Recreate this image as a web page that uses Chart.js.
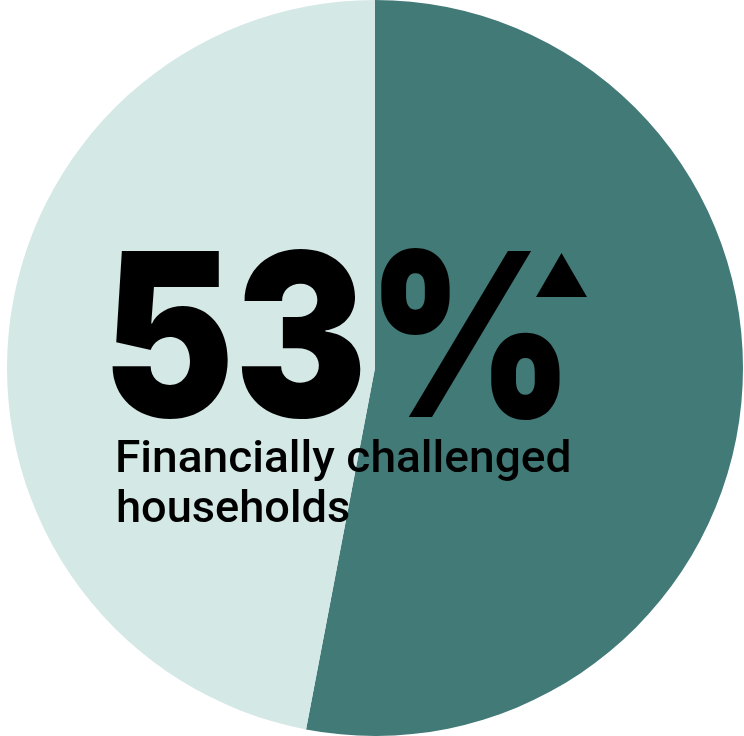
<!DOCTYPE html>
<html><head><meta charset="utf-8">
<script src="https://cdn.jsdelivr.net/npm/chart.js@4"></script>
<style>html,body{margin:0;padding:0;background:#fff}#wrap{width:744px;height:736px}</style>
</head><body><div id="wrap"><canvas id="c" width="744" height="736"></canvas></div>
<script>
const categories = ["Financially challenged households", "Other households"];
const values = [53, 47];
const bigLabel = "53%";
const subLabel = ["Financially challenged", "households"];
const colors = ["#427a78", "#d4e8e6"];

const BIG_FONT = '900 228px Inter';
const SUB_FONT = '500 45px Roboto';

// fit text so that its ink spans [left, right]
function fitInk(ctx, text, font, left, right, y) {
  ctx.font = font;
  const m = ctx.measureText(text);
  const inkW = m.actualBoundingBoxLeft + m.actualBoundingBoxRight;
  const s = (right - left) / inkW;
  ctx.save();
  ctx.translate(left + m.actualBoundingBoxLeft * s, y);
  ctx.scale(s, 1);
  ctx.fillText(text, 0, 0);
  ctx.restore();
}

const overlay = {
  id: 'overlay',
  afterDraw(chart) {
    const ctx = chart.ctx;
    ctx.save();
    ctx.fillStyle = '#000';
    ctx.textBaseline = 'alphabetic';
    ctx.textAlign = 'left';
    fitInk(ctx, bigLabel, BIG_FONT, 112, 560, 417);
    ctx.beginPath();
    ctx.moveTo(536, 297); ctx.lineTo(587, 297); ctx.lineTo(561.5, 253); ctx.closePath();
    ctx.fill();
    fitInk(ctx, subLabel[0], SUB_FONT, 118, 569, 472);
    fitInk(ctx, subLabel[1], SUB_FONT, 118, 349, 522);
    ctx.restore();
  }
};

function draw() {
  new Chart(document.getElementById('c'), {
    type: 'pie',
    data: { labels: categories, datasets: [{ data: values, backgroundColor: colors, borderWidth: 0 }] },
    options: {
      responsive: false, animation: false,
      layout: { padding: { left: 6 } },
      plugins: { legend: { display: false }, tooltip: { enabled: false } }
    },
    plugins: [overlay]
  });
}
Promise.all([document.fonts.load(BIG_FONT, bigLabel), document.fonts.load(SUB_FONT, subLabel[0])])
  .then(draw, draw);
</script></body></html>
